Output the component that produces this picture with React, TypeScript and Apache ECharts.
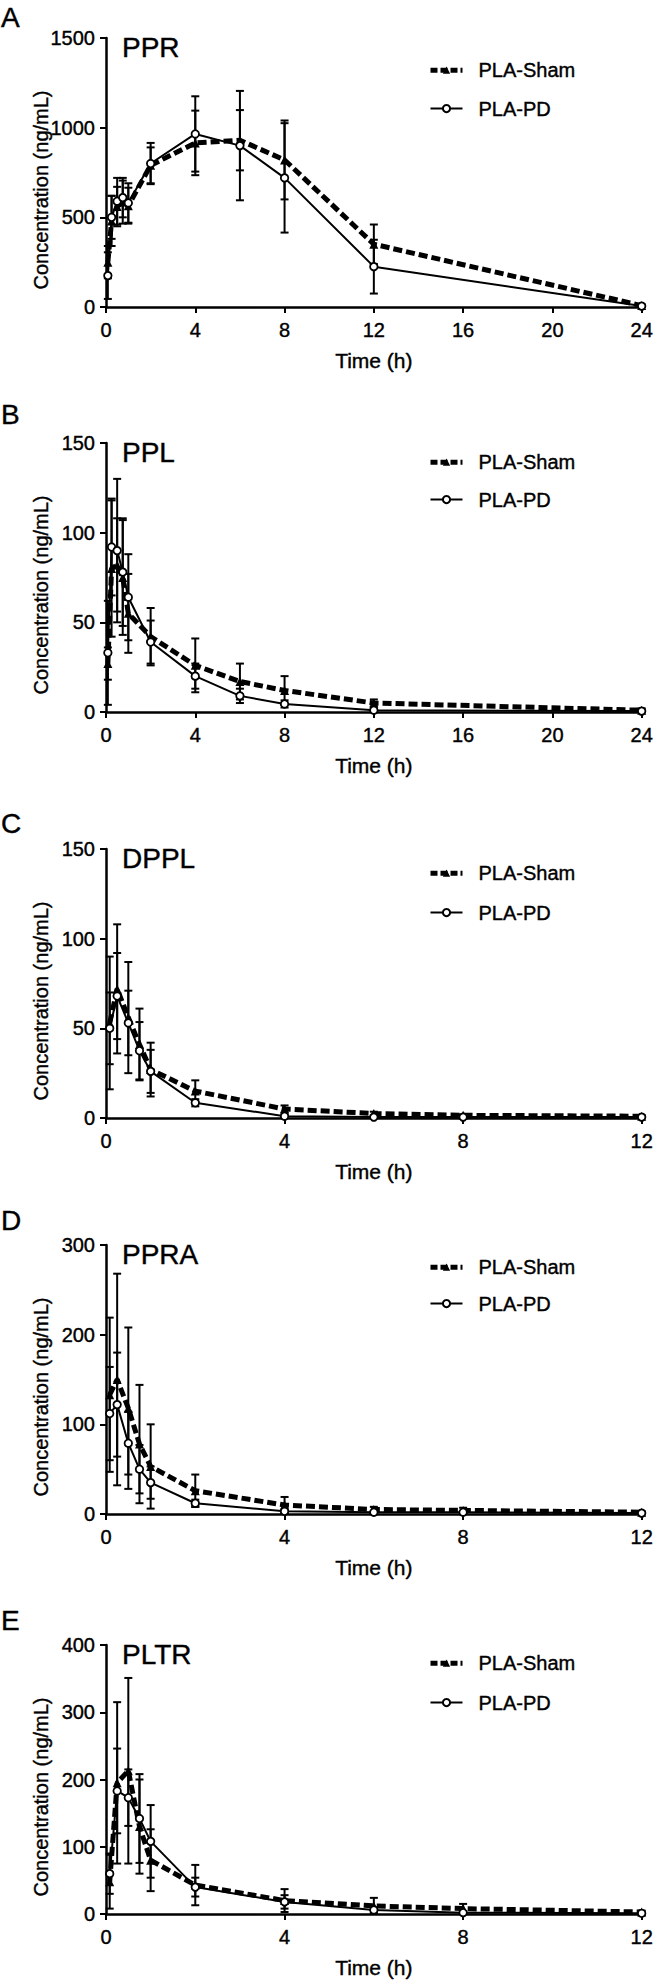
import React, { useEffect, useRef } from "react";
import * as echarts from "echarts";

// ---------- data ----------
const panelLetters = ["A", "B", "C", "D", "E"];
const analytes = ["PPR", "PPL", "DPPL", "PPRA", "PLTR"];
const groupNames = ["PLA-Sham", "PLA-PD"];
const yMaxes = [1500, 150, 150, 300, 400];
const yIntervals = [500, 50, 50, 100, 100];
const xMaxes = [24, 24, 12, 12, 12];
const xInterval = 4;
const xAxisTitle = "Time (h)";
const yAxisTitle = "Concentration (ng/mL)";

const timesLong = [0.083, 0.25, 0.5, 0.75, 1, 2, 4, 6, 8, 12, 24];
const timesShort = [0.083, 0.25, 0.5, 0.75, 1, 2, 4, 6, 8, 12];

// PPR
const pprShamMean = [250, 480, 560, 585, 565, 790, 915, 930, 820, 350, 8];
const pprShamSd = [90, 140, 110, 120, 100, 100, 180, 168, 220, 110, 6];
const pprPdMean = [175, 500, 590, 610, 580, 800, 965, 900, 720, 225, 5];
const pprPdSd = [130, 120, 130, 110, 110, 115, 210, 305, 305, 150, 4];
// PPL
const pplShamMean = [27, 80, 82, 75, 55, 42, 26, 17, 12, 5, 1];
const pplShamSd = [9, 38, 26, 32, 22, 16, 15, 10, 8, 2, 1];
const pplPdMean = [33, 92, 90, 78, 64, 39, 20, 9, 4.5, 1, 0.5];
const pplPdSd = [29, 27, 40, 30, 24, 12, 7, 4, 2, 1, 0.5];
// DPPL
const dpplShamMean = [53, 72, 56, 41, 27, 15, 5, 2.5, 1.5, 1];
const dpplShamSd = [37, 36, 31, 20, 15, 6, 2, 1, 0.5, 0.5];
const dpplPdMean = [50, 68, 53, 37.5, 26, 8.5, 1, 0.5, 0.5, 0.5];
const dpplPdSd = [20, 24, 18, 16, 12, 2, 0.5, 0.3, 0.3, 0.3];
// PPRA
const ppraShamMean = [133, 150, 118, 78, 53, 26, 10, 5, 4, 2];
const ppraShamSd = [86, 118, 90, 66, 47, 18, 9, 3, 3, 1];
const ppraPdMean = [112, 122, 79, 50, 35, 12, 3, 2, 2, 1];
const ppraPdSd = [52, 58, 35, 27, 18, 4, 2, 1, 1, 0.5];
// PLTR
const pltrShamMean = [48, 195, 213, 130, 80, 43, 20, 12, 8, 3];
const pltrShamSd = [40, 120, 138, 70, 46, 30, 17, 12, 7, 2];
const pltrPdMean = [60, 183, 173, 142, 108, 40, 18, 6, 2, 1];
const pltrPdSd = [30, 63, 42, 66, 54, 14, 10, 4, 2, 1];

const panelTimes = [timesLong, timesLong, timesShort, timesShort, timesShort];
const panelSham = [
  [pprShamMean, pprShamSd],
  [pplShamMean, pplShamSd],
  [dpplShamMean, dpplShamSd],
  [ppraShamMean, ppraShamSd],
  [pltrShamMean, pltrShamSd],
];
const panelPd = [
  [pprPdMean, pprPdSd],
  [pplPdMean, pplPdSd],
  [dpplPdMean, dpplPdSd],
  [ppraPdMean, ppraPdSd],
  [pltrPdMean, pltrPdSd],
];

// ---------- layout ----------
const W = 656;
const H = 1982;
const gridLeft = 106;
const gridRight = 14;
const gridHeight = 269;
const gridTops = [38, 443, 849, 1245, 1645];
const letterCenters = [17, 414, 823, 1220, 1620];
const legendFirstOffsets = [27, 14, 19, 17, 13];
const legendGaps = [18, 17, 19, 16, 19];
const FONT = "'Liberation Sans', Arial, Helvetica, sans-serif";
const HEAVY = { textBorderColor: "#000", textBorderWidth: 0.4 };

const shamLine = { color: "#000", width: 5, type: [9, 4] as number[] };
const pdLine = { color: "#000", width: 2, type: "solid" };

export default function App() {
  const ref = useRef<HTMLDivElement>(null);

  useEffect(() => {
    if (!ref.current) return;
    const chart = echarts.init(ref.current, undefined, { renderer: "svg" });

    const grids: any[] = [];
    const xAxes: any[] = [];
    const yAxes: any[] = [];
    const series: any[] = [];
    const legends: any[] = [];
    const graphics: any[] = [];

    const errRender = (params: any, api: any) => {
      const x = api.value(0);
      const lo = api.value(1);
      const hi = api.value(2);
      const pHi = api.coord([x, hi]);
      const pLo = api.coord([x, lo]);
      const w = 4;
      const st = { stroke: "#000", lineWidth: 2 };
      return {
        type: "group",
        children: [
          { type: "line", shape: { x1: pHi[0], y1: pHi[1], x2: pLo[0], y2: pLo[1] }, style: st },
          { type: "line", shape: { x1: pHi[0] - w, y1: pHi[1], x2: pHi[0] + w, y2: pHi[1] }, style: st },
          { type: "line", shape: { x1: pLo[0] - w, y1: pLo[1], x2: pLo[0] + w, y2: pLo[1] }, style: st },
        ],
      };
    };

    const plain = (v: number) => String(v);

    for (let i = 0; i < 5; i++) {
      const top = gridTops[i];
      grids.push({ left: gridLeft, right: gridRight, top, height: gridHeight, containLabel: false });
      xAxes.push({
        gridIndex: i,
        type: "value",
        min: 0,
        max: xMaxes[i],
        interval: xInterval,
        splitLine: { show: false },
        axisLine: { show: true, onZero: true, lineStyle: { color: "#000", width: 2.5 } },
        axisTick: { show: true, length: 6, lineStyle: { color: "#000", width: 2 } },
        axisLabel: { color: "#000", fontSize: 20, fontFamily: FONT, margin: 13, formatter: plain, ...HEAVY },
        name: xAxisTitle,
        nameLocation: "middle",
        nameGap: 43,
        nameTextStyle: { color: "#000", fontSize: 21, fontFamily: FONT, ...HEAVY },
      });
      yAxes.push({
        gridIndex: i,
        type: "value",
        min: 0,
        max: yMaxes[i],
        interval: yIntervals[i],
        splitLine: { show: false },
        axisLine: { show: true, lineStyle: { color: "#000", width: 2.5 } },
        axisTick: { show: true, length: 6, lineStyle: { color: "#000", width: 2 } },
        axisLabel: { color: "#000", fontSize: 20, fontFamily: FONT, margin: 11, formatter: plain, ...HEAVY },
      });

      const t = panelTimes[i];
      const [sm, ss] = panelSham[i];
      const [pm, ps] = panelPd[i];
      const errData = (m: number[], s: number[]) =>
        t.map((x, k) => [x, Math.max(0, m[k] - s[k]), m[k] + s[k]]);

      series.push({
        type: "custom",
        name: "err-sham-" + i,
        xAxisIndex: i,
        yAxisIndex: i,
        renderItem: errRender,
        data: errData(sm, ss),
        encode: { x: 0, y: [1, 2] },
        z: 1,
        silent: true,
      });
      series.push({
        type: "custom",
        name: "err-pd-" + i,
        xAxisIndex: i,
        yAxisIndex: i,
        renderItem: errRender,
        data: errData(pm, ps),
        encode: { x: 0, y: [1, 2] },
        z: 1,
        silent: true,
      });
      series.push({
        type: "line",
        name: groupNames[0],
        xAxisIndex: i,
        yAxisIndex: i,
        data: t.map((x, k) => [x, sm[k]]),
        symbol: "triangle",
        symbolSize: 9,
        showAllSymbol: true,
        itemStyle: { color: "#000" },
        lineStyle: shamLine,
        z: 3,
        silent: true,
      });
      series.push({
        type: "line",
        name: groupNames[1],
        xAxisIndex: i,
        yAxisIndex: i,
        data: t.map((x, k) => [x, pm[k]]),
        symbol: "circle",
        symbolSize: 7.5,
        showAllSymbol: true,
        itemStyle: { color: "#fff", borderColor: "#000", borderWidth: 1.8 },
        lineStyle: pdLine,
        z: 4,
        silent: true,
      });

      legends.push({
        data: [
          { name: groupNames[0], lineStyle: { width: 5, type: [7, 3] } },
          { name: groupNames[1], lineStyle: { width: 2 } },
        ],
        orient: "vertical",
        left: 423,
        top: top + legendFirstOffsets[i] - 10,
        itemWidth: 32,
        itemHeight: 9,
        itemGap: legendGaps[i],
        selectedMode: false,
        textStyle: { color: "#000", fontSize: 20, fontFamily: FONT, padding: [0, 0, 0, 11], ...HEAVY },
      });

      graphics.push({
        type: "text",
        x: 1,
        y: letterCenters[i],
        style: {
          text: panelLetters[i],
          fontSize: 28,
          fontFamily: FONT,
          fill: "#000",
          align: "left",
          verticalAlign: "middle",
          stroke: "#000",
          lineWidth: 0.4,
        },
      });
      graphics.push({
        type: "text",
        x: 122,
        y: top + 9,
        style: {
          text: analytes[i],
          fontSize: 28,
          fontFamily: FONT,
          fill: "#000",
          align: "left",
          verticalAlign: "middle",
          stroke: "#000",
          lineWidth: 0.4,
        },
      });
      graphics.push({
        type: "text",
        x: 41,
        y: top + 152,
        rotation: Math.PI / 2,
        style: {
          text: yAxisTitle,
          fontSize: 20,
          fontFamily: FONT,
          fill: "#000",
          align: "center",
          verticalAlign: "middle",
          stroke: "#000",
          lineWidth: 0.4,
        },
      });
    }

    chart.setOption({
      animation: false,
      backgroundColor: "#fff",
      textStyle: { fontFamily: FONT },
      grid: grids,
      xAxis: xAxes,
      yAxis: yAxes,
      legend: legends,
      series,
      graphic: graphics,
    });

    return () => chart.dispose();
  }, []);

  return (
    <div
      ref={ref}
      style={{ position: "absolute", left: 0, top: 0, width: W, height: H, background: "#fff" }}
    />
  );
}
